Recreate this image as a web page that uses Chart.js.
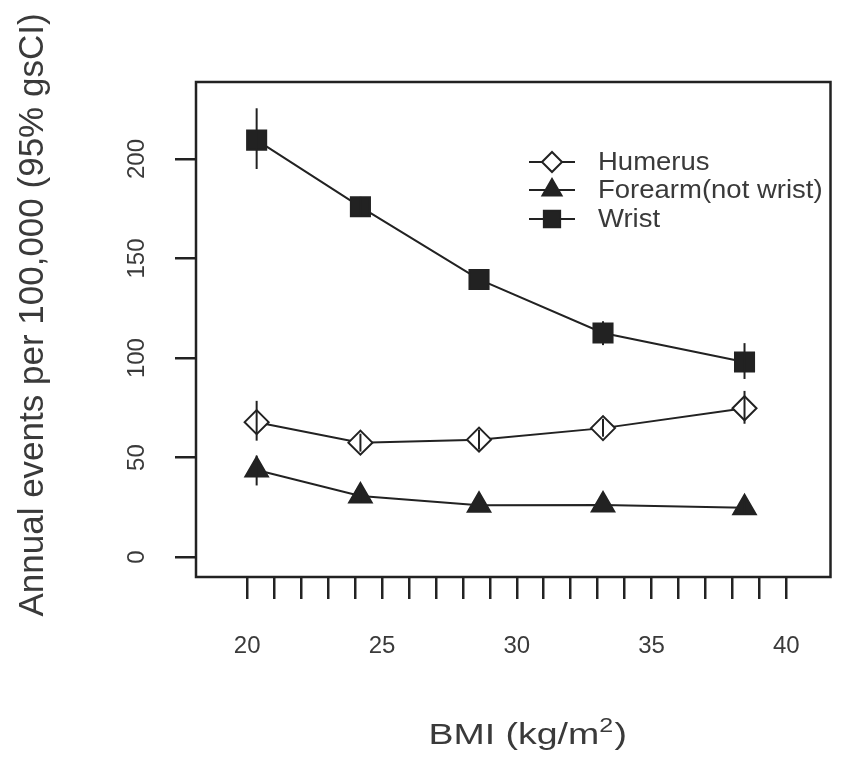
<!DOCTYPE html>
<html>
<head>
<meta charset="utf-8">
<script src="https://cdn.jsdelivr.net/npm/chart.js@4.4.0/dist/chart.umd.min.js"></script>
<style>
  html, body { margin: 0; padding: 0; background: #fff; }
</style>
</head>
<body>
<canvas id="bmiChart" width="846" height="757"></canvas>
<script>
// values
var bmi = [20.35, 24.2, 28.6, 33.2, 38.45];

var humerus   = [67.8, 57.5, 59.0, 64.8, 74.8];
var humerusLo = [58.5, 53.0, 54.0, 60.5, 67.0];
var humerusHi = [78.5, 62.0, 64.0, 69.5, 83.5];

var forearm   = [43.8, 30.7, 26.0, 26.2, 24.8];
var forearmLo = [36.0, 27.5, 23.0, 23.5, 21.5];
var forearmHi = [51.0, 34.0, 29.0, 29.0, 28.0];

var wrist   = [209.5, 176.0, 139.5, 112.6, 98.0];
var wristLo = [195.0, 171.0, 134.5, 106.5, 89.5];
var wristHi = [225.5, 181.0, 144.5, 118.5, 107.5];

var seriesNames = ['Humerus', 'Forearm(not wrist)', 'Wrist'];
var xTicks = [20, 21, 22, 23, 24, 25, 26, 27, 28, 29, 30, 31, 32, 33, 34, 35, 36, 37, 38, 39, 40];
var yTicks = [0, 50, 100, 150, 200];

var ink = '#222';
var textCol = '#3a3a3a';
var fontFam = '"Liberation Sans", Arial, Helvetica, sans-serif';

function pts(ys) {
  return bmi.map(function (x, i) { return { x: x, y: ys[i] }; });
}

var styles = [
  { pointStyle: 'rectRot', radius: 12, fill: '#fff' },
  { pointStyle: 'triangle', radius: 13, fill: ink },
  { pointStyle: 'rect', radius: 13.5, fill: ink }
];
var allValues = [humerus, forearm, wrist];
var allLo = [humerusLo, forearmLo, wristLo];
var allHi = [humerusHi, forearmHi, wristHi];

var datasets = allValues.map(function (vals, k) {
  return {
    label: seriesNames[k],
    data: pts(vals),
    borderColor: ink,
    borderWidth: 2,
    tension: 0,
    pointStyle: styles[k].pointStyle,
    pointRadius: styles[k].radius,
    pointBackgroundColor: styles[k].fill,
    pointBorderColor: ink,
    pointBorderWidth: 2
  };
});

// error bars, box, rotated y labels, titles and legend
var extras = {
  id: 'extras',
  afterDatasetsDraw: function (chart) {
    var ctx = chart.ctx;
    var xs = chart.scales.x, ys = chart.scales.y;
    ctx.save();
    ctx.strokeStyle = ink;
    ctx.lineWidth = 2;
    for (var k = 0; k < allValues.length; k++) {
      for (var i = 0; i < bmi.length; i++) {
        var px = xs.getPixelForValue(bmi[i]);
        ctx.beginPath();
        ctx.moveTo(px, ys.getPixelForValue(allLo[k][i]));
        ctx.lineTo(px, ys.getPixelForValue(allHi[k][i]));
        ctx.stroke();
      }
    }
    ctx.restore();
  },
  afterDraw: function (chart) {
    var ctx = chart.ctx;
    var a = chart.chartArea;
    var ys = chart.scales.y;
    ctx.save();
    // plot box
    ctx.strokeStyle = ink;
    ctx.lineWidth = 2.5;
    ctx.strokeRect(a.left, a.top, a.right - a.left, a.bottom - a.top);

    // y tick labels, parallel to axis
    ctx.fillStyle = textCol;
    ctx.font = '24px ' + fontFam;
    ctx.textAlign = 'center';
    ctx.textBaseline = 'middle';
    yTicks.forEach(function (v) {
      ctx.save();
      ctx.translate(137, ys.getPixelForValue(v));
      ctx.rotate(-Math.PI / 2);
      ctx.fillText(String(v), 0, 0);
      ctx.restore();
    });

    // y title
    ctx.save();
    ctx.translate(33, 315);
    ctx.rotate(-Math.PI / 2);
    ctx.font = '35px ' + fontFam;
    ctx.fillText('Annual events per 100,000 (95% gsCI)', 0, 0);
    ctx.restore();

    // x title with superscript
    ctx.save();
    ctx.translate(527, 734);
    ctx.scale(1.25, 1);
    ctx.textAlign = 'left';
    ctx.textBaseline = 'alphabetic';
    ctx.font = '30px ' + fontFam;
    var p1 = 'BMI (kg/m', p3 = ')';
    var w1 = ctx.measureText(p1).width, w3 = ctx.measureText(p3).width;
    ctx.font = '20px ' + fontFam;
    var w2 = ctx.measureText('2').width;
    var x0 = -(w1 + w2 + w3) / 2;
    ctx.font = '30px ' + fontFam;
    ctx.fillText(p1, x0, 10);
    ctx.font = '20px ' + fontFam;
    ctx.fillText('2', x0 + w1, -2);
    ctx.font = '30px ' + fontFam;
    ctx.fillText(p3, x0 + w1 + w2 + 1, 10);
    ctx.restore();

    // legend
    var rows = [162, 190, 219];
    for (var k = 0; k < seriesNames.length; k++) {
      var cy = rows[k];
      ctx.strokeStyle = ink;
      ctx.lineWidth = 2;
      ctx.beginPath();
      ctx.moveTo(529, cy);
      ctx.lineTo(575, cy);
      ctx.stroke();
      ctx.fillStyle = styles[k].fill;
      Chart.helpers.drawPoint(ctx, {
        pointStyle: styles[k].pointStyle,
        radius: styles[k].radius - 2,
        rotation: 0,
        borderWidth: 2
      }, 552, cy);
      ctx.save();
      ctx.translate(598, cy);
      ctx.scale(1.1, 1);
      ctx.fillStyle = textCol;
      ctx.font = '25px ' + fontFam;
      ctx.textAlign = 'left';
      ctx.textBaseline = 'middle';
      ctx.fillText(seriesNames[k], 0, 1);
      ctx.restore();
    }
    ctx.restore();
  }
};

new Chart(document.getElementById('bmiChart'), {
  type: 'line',
  data: { datasets: datasets },
  options: {
    responsive: false,
    animation: false,
    events: [],
    devicePixelRatio: 1,
    layout: { padding: { left: 0, right: 4, top: 82, bottom: 0 } },
    plugins: { legend: { display: false }, tooltip: { enabled: false } },
    scales: {
      x: {
        type: 'linear',
        min: 18.1,
        max: 41.64,
        afterBuildTicks: function (s) { s.ticks = xTicks.map(function (v) { return { value: v }; }); },
        afterFit: function (s) { s.height = 180; },
        border: { display: false },
        grid: { drawOnChartArea: false, drawTicks: true, tickLength: 22, color: ink, lineWidth: 2.5 },
        ticks: {
          autoSkip: false,
          maxRotation: 0,
          padding: 33,
          color: textCol,
          font: { family: fontFam, size: 24 },
          callback: function (v) { return v % 5 === 0 ? String(v) : ''; }
        }
      },
      y: {
        min: -10,
        max: 238.7,
        afterBuildTicks: function (s) { s.ticks = yTicks.map(function (v) { return { value: v }; }); },
        afterFit: function (s) { s.width = 196; },
        border: { display: false },
        grid: { drawOnChartArea: false, drawTicks: true, tickLength: 21, color: ink, lineWidth: 2.5 },
        ticks: { display: false }
      }
    }
  },
  plugins: [extras]
});
</script>
</body>
</html>
